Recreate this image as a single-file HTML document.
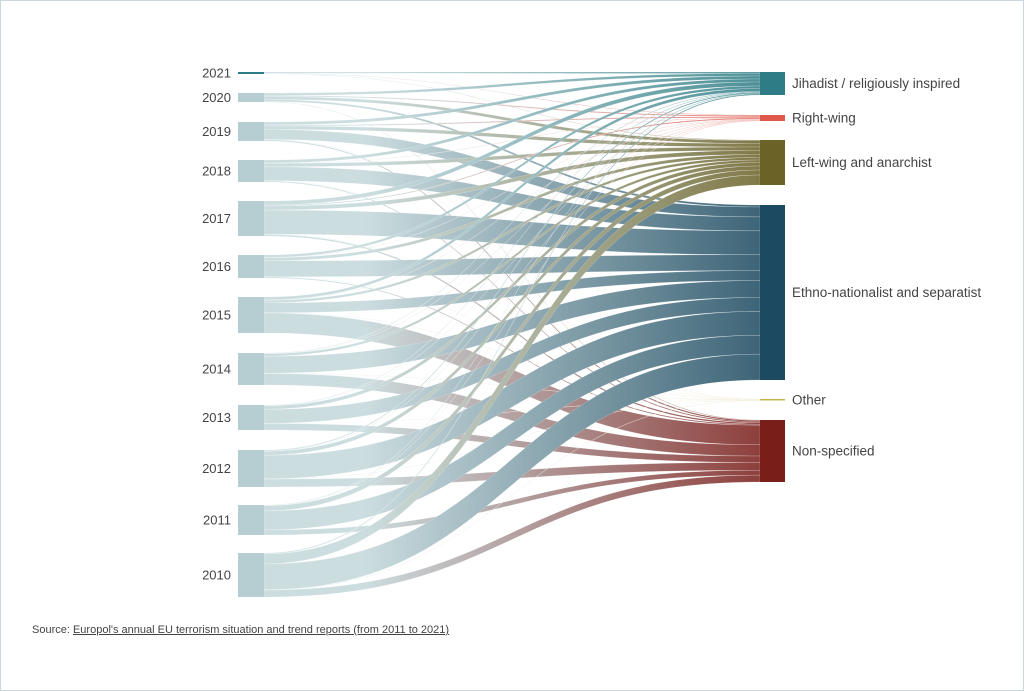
<!DOCTYPE html>
<html><head><meta charset="utf-8">
<style>
html,body{margin:0;padding:0;background:#fff;}
body{width:1024px;height:691px;overflow:hidden;position:relative;font-family:"Liberation Sans",sans-serif;}
#frame{position:absolute;left:0;top:0;width:1022px;height:689px;border:1px solid #c9d9df;}
svg{position:absolute;left:0;top:0;}
.src{position:absolute;left:32px;top:624px;font-size:11px;color:#444;}
.src u{color:#444;}
</style></head><body>
<div id="frame"></div>
<svg id="s" width="1024" height="691" xmlns="http://www.w3.org/2000/svg"></svg>
<div class="src">Source: <u>Europol's annual EU terrorism situation and trend reports (from 2011 to 2021)</u></div>
<script>
var NS="http://www.w3.org/2000/svg",svg=document.getElementById('s');
function el(t,a,p){var e=document.createElementNS(NS,t);for(var k in a)e.setAttribute(k,a[k]);(p||svg).appendChild(e);return e;}
var years=[["2021",72,74],["2020",93,102],["2019",122,141],["2018",160,182],["2017",201,236],["2016",255,278],["2015",297,333],["2014",353,385],["2013",405,430],["2012",450,487],["2011",505,535],["2010",553,597]];
var cats=[["Jihadist / religiously inspired",72,95,"#2e7d86"],["Right-wing",115,121,"#e0584a"],["Left-wing and anarchist",140,185,"#6b6228"],["Ethno-nationalist and separatist",205,380,"#1c4a60"],["Other",399,400.5,"#c8b44a"],["Non-specified",420,482,"#7a1e1a"]];
var F=[[1.5,.5,.5,0.01,0,0.01],[2.5,1,3,2,0.01,.5],[3,1,3.5,10,.2,1.3],[3,.3,3.5,14,.2,1],[4,1,4,24,.2,1.5],[2.5,.3,3,16,.2,1],[3,.3,2.5,10,.3,20],[.5,.3,2.5,17,.3,11.5],[.5,.3,3.5,14,.2,6.5],[1,.3,4,24,.3,8],[.5,.3,5,19,0.01,5],[1,0.01,10,26,.3,7]];
var defs=el('defs',{});
cats.forEach(function(c,j){var g=el('linearGradient',{id:'g'+j,x1:'0',x2:'1',y1:'0',y2:'0'},defs);
el('stop',{offset:'0','stop-color':'#c4d8db'},g);el('stop',{offset:'0.2','stop-color':'#c4d8db'},g);el('stop',{offset:'1','stop-color':c[3]},g);});
var x0=264,x1=760;
var ly=years.map(function(y){return y[1];});
var rtot=cats.map(function(_,j){var s=0;F.forEach(function(r){s+=r[j];});return s;});
var ry=cats.map(function(c){return c[1];});
var links=[];
for(var i=0;i<years.length;i++){var tot=F[i].reduce(function(a,b){return a+b;},0);var h=years[i][2]-years[i][1];
 for(var j=0;j<cats.length;j++){var lh=F[i][j]/tot*h;var rh=F[i][j]/rtot[j]*(cats[j][2]-cats[j][1]);
  links.push([j,ly[i],lh,0,rh,i]);ly[i]+=lh;}}
for(var j=0;j<cats.length;j++){for(var i=0;i<years.length;i++){var L=links[i*cats.length+j];L[3]=ry[j];ry[j]+=L[4];}}
var g=el('g',{opacity:'0.85'});
links.forEach(function(L){if(L[2]<0.05)return;var j=L[0],a=L[1],b=L[1]+L[2],c=L[3],d=L[3]+L[4],m=(x0+x1)/2;
 el('path',{d:'M'+x0+','+a+'C'+m+','+a+' '+m+','+c+' '+x1+','+c+'L'+x1+','+d+'C'+m+','+d+' '+m+','+b+' '+x0+','+b+'Z',fill:'url(#g'+j+')',stroke:'#fff','stroke-width':'0.3','stroke-opacity':'0.6'},g);});
years.forEach(function(y){el('rect',{x:238,y:y[1],width:26,height:Math.max(1.5,y[2]-y[1]),fill:y[0]=="2021"?"#2e7d86":"#b6cdd1"});
 var t=el('text',{x:231,y:(y[1]+y[2])/2+4.5,'text-anchor':'end','font-size':'13','fill':'#444','font-family':'Liberation Sans, sans-serif'});t.textContent=y[0];});
cats.forEach(function(c){el('rect',{x:760,y:c[1],width:25,height:Math.max(1.5,c[2]-c[1]),fill:c[3]});
 var t=el('text',{x:792,y:(c[1]+c[2])/2+4.5,'font-size':'13.5','fill':'#444','font-family':'Liberation Sans, sans-serif'});t.textContent=c[0];});
</script>
</body></html>
